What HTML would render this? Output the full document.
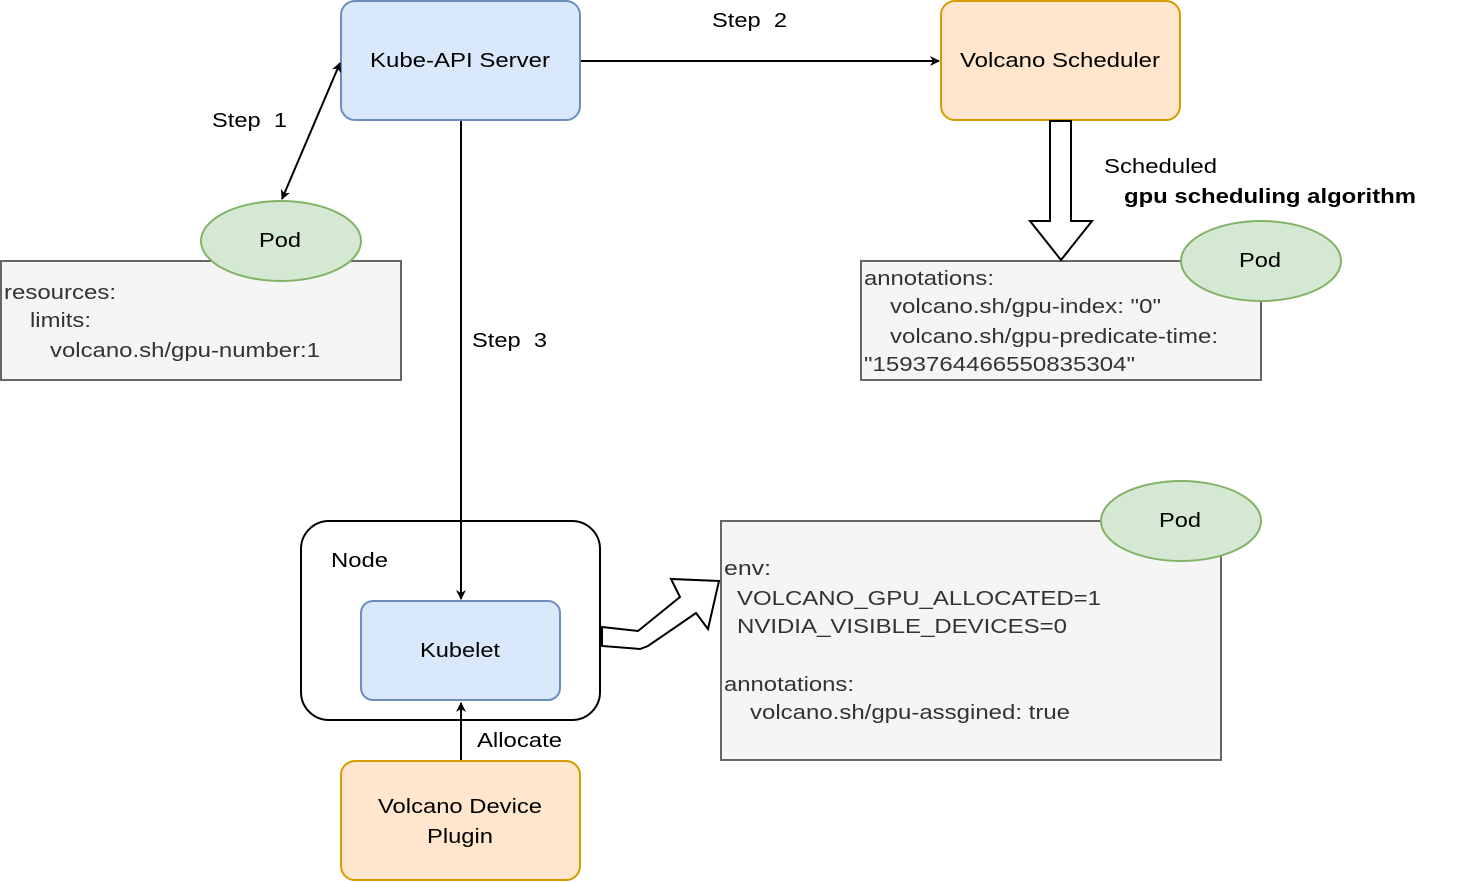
<!DOCTYPE html>
<html><head><meta charset="utf-8"><style>body{margin:0;background:#fff}svg{display:block}text{font-family:"Liberation Sans",Arial,sans-serif;font-size:20px;fill:#000}.g{fill:#333}</style></head><body>
<svg width="1462" height="882" viewBox="0 0 1462 882" xmlns="http://www.w3.org/2000/svg">
<defs><marker id="a" markerWidth="10" markerHeight="10" refX="9" refY="5" orient="auto-start-reverse" markerUnits="userSpaceOnUse"><path d="M0,0 L10,5 L0,10 L3,5 Z" fill="#000"/></marker></defs>
<rect x="1" y="261" width="400" height="119" fill="#f5f5f5" stroke="#666" stroke-width="2"/>
<text class="g" x="4" y="299" textLength="112" lengthAdjust="spacingAndGlyphs">resources:</text><text class="g" x="30" y="327" textLength="61" lengthAdjust="spacingAndGlyphs">limits:</text><text class="g" x="50" y="357" textLength="270" lengthAdjust="spacingAndGlyphs">volcano.sh/gpu-number:1</text>
<rect x="861" y="261" width="400" height="119" fill="#f5f5f5" stroke="#666" stroke-width="2"/>
<text class="g" x="864" y="285" textLength="130" lengthAdjust="spacingAndGlyphs">annotations:</text><text class="g" x="890" y="313" textLength="271" lengthAdjust="spacingAndGlyphs">volcano.sh/gpu-index: "0"</text><text class="g" x="890" y="343" textLength="328" lengthAdjust="spacingAndGlyphs">volcano.sh/gpu-predicate-time:</text><text class="g" x="864" y="371" textLength="271" lengthAdjust="spacingAndGlyphs">"1593764466550835304"</text>
<rect x="721" y="521" width="500" height="239" fill="#f5f5f5" stroke="#666" stroke-width="2"/>
<text class="g" x="724" y="575" textLength="47" lengthAdjust="spacingAndGlyphs">env:</text><text class="g" x="737" y="605" textLength="364" lengthAdjust="spacingAndGlyphs">VOLCANO_GPU_ALLOCATED=1</text><text class="g" x="737" y="633" textLength="330" lengthAdjust="spacingAndGlyphs">NVIDIA_VISIBLE_DEVICES=0</text>
<text class="g" x="724" y="691" textLength="130" lengthAdjust="spacingAndGlyphs">annotations:</text><text class="g" x="750" y="719" textLength="320" lengthAdjust="spacingAndGlyphs">volcano.sh/gpu-assgined: true</text>
<rect x="301" y="521" width="299" height="199" rx="28" fill="#fff" stroke="#000" stroke-width="2"/>
<text x="331" y="567" textLength="57" lengthAdjust="spacingAndGlyphs">Node</text>
<rect x="341" y="1" width="239" height="119" rx="14" fill="#dae8fc" stroke="#6c8ebf" stroke-width="2"/>
<text x="460" y="67" text-anchor="middle" textLength="180" lengthAdjust="spacingAndGlyphs">Kube-API Server</text>
<rect x="941" y="1" width="239" height="119" rx="14" fill="#ffe6cc" stroke="#d79b00" stroke-width="2"/>
<text x="1060" y="67" text-anchor="middle" textLength="200" lengthAdjust="spacingAndGlyphs">Volcano Scheduler</text>
<rect x="361" y="601" width="199" height="99" rx="12" fill="#dae8fc" stroke="#6c8ebf" stroke-width="2"/>
<text x="460" y="657" text-anchor="middle" textLength="80" lengthAdjust="spacingAndGlyphs">Kubelet</text>
<rect x="341" y="761" width="239" height="119" rx="14" fill="#ffe6cc" stroke="#d79b00" stroke-width="2"/>
<text x="460" y="813" text-anchor="middle" textLength="164" lengthAdjust="spacingAndGlyphs">Volcano Device</text><text x="460" y="843" text-anchor="middle" textLength="66" lengthAdjust="spacingAndGlyphs">Plugin</text>
<ellipse cx="281" cy="241" rx="80" ry="40" fill="#d5e8d4" stroke="#82b366" stroke-width="2"/><text x="280" y="247" text-anchor="middle" textLength="42" lengthAdjust="spacingAndGlyphs">Pod</text>
<ellipse cx="1261" cy="261" rx="80" ry="40" fill="#d5e8d4" stroke="#82b366" stroke-width="2"/><text x="1260" y="267" text-anchor="middle" textLength="42" lengthAdjust="spacingAndGlyphs">Pod</text>
<ellipse cx="1181" cy="521" rx="80" ry="40" fill="#d5e8d4" stroke="#82b366" stroke-width="2"/><text x="1180" y="527" text-anchor="middle" textLength="42" lengthAdjust="spacingAndGlyphs">Pod</text>
<line x1="581" y1="61" x2="939" y2="61" stroke="#000" stroke-width="2" marker-end="url(#a)"/>
<line x1="282" y1="199" x2="340" y2="63" stroke="#000" stroke-width="2" marker-start="url(#a)" marker-end="url(#a)"/>
<line x1="461" y1="121" x2="461" y2="599" stroke="#000" stroke-width="2" marker-end="url(#a)"/>
<line x1="461" y1="760" x2="461" y2="703" stroke="#000" stroke-width="2" marker-end="url(#a)"/>
<path d="M1050,121 L1071,121 L1071,221 L1092,221 L1061,260 L1030,221 L1050,221 Z" fill="#fff" stroke="#000" stroke-width="2"/>
<path d="M602,627 L638,631 L680,597 L671,579 L719,581 L708,629 L696,613 L648,646 L640,649 L602,646 Z" fill="#fff" stroke="#000" stroke-width="2"/>
<text x="212" y="127" textLength="75" lengthAdjust="spacingAndGlyphs">Step&#160; 1</text>
<text x="712" y="27" textLength="75" lengthAdjust="spacingAndGlyphs">Step&#160; 2</text>
<text x="472" y="347" textLength="75" lengthAdjust="spacingAndGlyphs">Step&#160; 3</text>
<text x="477" y="747" textLength="85" lengthAdjust="spacingAndGlyphs">Allocate</text>
<text x="1104" y="173" textLength="113" lengthAdjust="spacingAndGlyphs">Scheduled</text>
<text x="1124" y="203" font-weight="bold" textLength="292" lengthAdjust="spacingAndGlyphs">gpu scheduling algorithm</text>
</svg></body></html>
